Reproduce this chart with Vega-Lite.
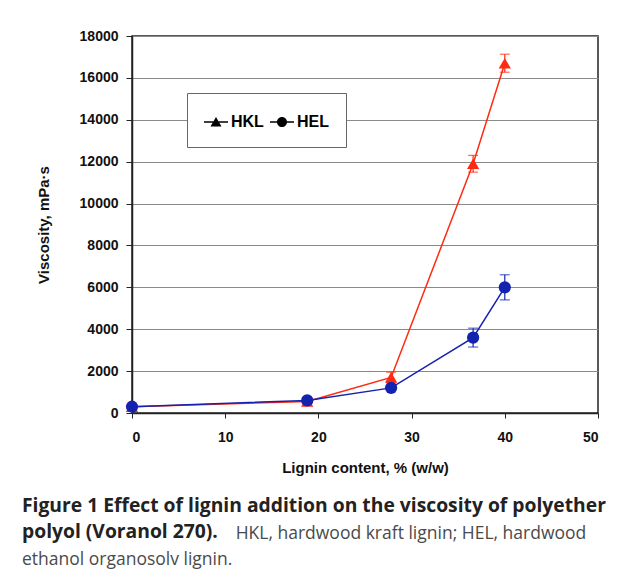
{
  "$schema": "https://vega.github.io/schema/vega-lite/v6.json",
  "width": 466,
  "height": 377,
  "autosize": {"type": "none"},
  "padding": {"left": 132, "top": 36, "right": 31, "bottom": 162},
  "background": "white",
  "title": {
    "text": ["Figure 1 Effect of lignin addition on the viscosity of polyether", "polyol (Voranol 270)."],
    "subtitle": ["\u200b\u00a0\u00a0\u00a0\u00a0\u00a0\u00a0\u00a0\u00a0\u00a0\u00a0\u00a0\u00a0\u00a0\u00a0\u00a0\u00a0\u00a0\u00a0\u00a0\u00a0\u00a0\u00a0\u00a0\u00a0\u00a0\u00a0\u00a0\u00a0\u00a0\u00a0\u00a0\u00a0\u00a0\u00a0\u00a0\u00a0\u00a0\u00a0\u00a0\u00a0\u00a0\u00a0\u00a0\u00a0\u00a0\u00a0\u00a0HKL, hardwood kraft lignin; HEL, hardwood", "ethanol organosolv lignin."],
    "orient": "bottom",
    "anchor": "start",
    "frame": "group",
    "dx": -110,
    "offset": 22,
    "font": "Open Sans",
    "fontSize": 19.3,
    "fontWeight": "bold",
    "color": "#222222",
    "lineHeight": 26,
    "subtitleFont": "Open Sans",
    "subtitleFontSize": 17.5,
    "subtitleFontWeight": "normal",
    "subtitleColor": "#4a4a4a",
    "subtitleLineHeight": 26,
    "subtitlePadding": -17.8
  },
  "data": {
    "values": [
      {"series": "HKL", "x": 0, "y": 300, "err": 100},
      {"series": "HKL", "x": 18.8, "y": 550, "err": 100},
      {"series": "HKL", "x": 27.8, "y": 1700, "err": 250},
      {"series": "HKL", "x": 36.6, "y": 11900, "err": 400},
      {"series": "HKL", "x": 40, "y": 16700, "err": 430},
      {"series": "HEL", "x": 0, "y": 300, "err": 50},
      {"series": "HEL", "x": 18.8, "y": 600, "err": 80},
      {"series": "HEL", "x": 27.8, "y": 1200, "err": 100},
      {"series": "HEL", "x": 36.6, "y": 3600, "err": 450},
      {"series": "HEL", "x": 40, "y": 6000, "err": 600}
    ]
  },
  "layer": [
    {
      "mark": {"type": "errorbar", "ticks": {"size": 10}, "thickness": 1.2},
      "encoding": {
        "x": {"field": "x", "type": "quantitative", "scale": {"domain": [0, 50]}, "title": "Lignin content, % (w/w)"},
        "y": {"field": "y", "type": "quantitative", "scale": {"domain": [0, 18000]}, "title": "Viscosity, mPa·s"},
        "yError": {"field": "err"},
        "color": {"field": "series", "type": "nominal", "scale": {"domain": ["HKL", "HEL"], "range": ["#ff2a10", "#1422b0"]}, "legend": null}
      }
    },
    {
      "mark": {"type": "line", "strokeWidth": 1.5},
      "encoding": {
        "x": {"field": "x", "type": "quantitative", "title": "Lignin content, % (w/w)"},
        "y": {"field": "y", "type": "quantitative", "title": "Viscosity, mPa·s"},
        "color": {"field": "series", "type": "nominal", "legend": null}
      }
    },
    {
      "mark": {"type": "point", "filled": true, "size": 150, "opacity": 1},
      "encoding": {
        "x": {
          "field": "x", "type": "quantitative",
          "axis": {"values": [0, 10, 20, 30, 40, 50], "title": "Lignin content, % (w/w)", "grid": false, "tickSize": 5, "labelPadding": 12, "titlePadding": 16}
        },
        "y": {
          "field": "y", "type": "quantitative",
          "axis": {"values": [0, 2000, 4000, 6000, 8000, 10000, 12000, 14000, 16000, 18000], "format": "d", "title": "Viscosity, mPa·s", "grid": true, "gridColor": "#8a8a8a", "gridWidth": 1, "tickSize": 6, "labelPadding": 8, "titlePadding": 28}
        },
        "shape": {"field": "series", "type": "nominal", "scale": {"domain": ["HKL", "HEL"], "range": ["triangle-up", "circle"]}, "legend": null},
        "color": {"field": "series", "type": "nominal", "legend": null}
      }
    },
    {
      "transform": [{"filter": "datum.x < -100"}],
      "mark": {"type": "point", "filled": true, "size": 576, "opacity": 1},
      "encoding": {
        "x": {"field": "x", "type": "quantitative"},
        "y": {"field": "y", "type": "quantitative"},
        "shape": {
          "field": "series", "type": "nominal",
          "scale": {"domain": ["HKL", "HEL"], "range": ["M-1,-0.06H1V0.06H-1Z M0,-0.42L0.46,0.38H-0.46Z", "M-1,-0.06H1V0.06H-1Z M-0.42,0A0.42,0.42 0 1 1 0.42,0A0.42,0.42 0 1 1 -0.42,0Z"]},
          "legend": {
            "orient": "none", "legendX": 55, "legendY": 57, "direction": "horizontal", "title": null,
            "fillColor": "white", "strokeColor": "#666666", "padding": 17,
            "symbolSize": 576, "symbolOpacity": 1, "symbolStrokeWidth": 0,
            "labelFont": "Liberation Sans", "labelFontSize": 16, "labelFontWeight": "bold", "labelColor": "black",
            "columnPadding": 6, "labelOffset": 3,
            "encode": {
              "symbols": {
                "update": {
                  "fill": {"scale": "color", "field": "value"}
                }
              }
            }
          }
        },
        "color": {"field": "series", "type": "nominal", "legend": null}
      }
    }
  ],
  "resolve": {"scale": {"shape": "independent"}},
  "config": {
    "view": {"stroke": "#222222", "strokeWidth": 1.5},
    "axis": {
      "labelFont": "Liberation Sans", "labelFontSize": 14, "labelFontWeight": "bold", "labelColor": "#111111",
      "titleFont": "Liberation Sans", "titleFontSize": 15, "titleFontWeight": "bold", "titleColor": "#111111",
      "domainColor": "#222222", "domainWidth": 1.5, "tickColor": "#222222", "tickWidth": 1
    }
  }
}
